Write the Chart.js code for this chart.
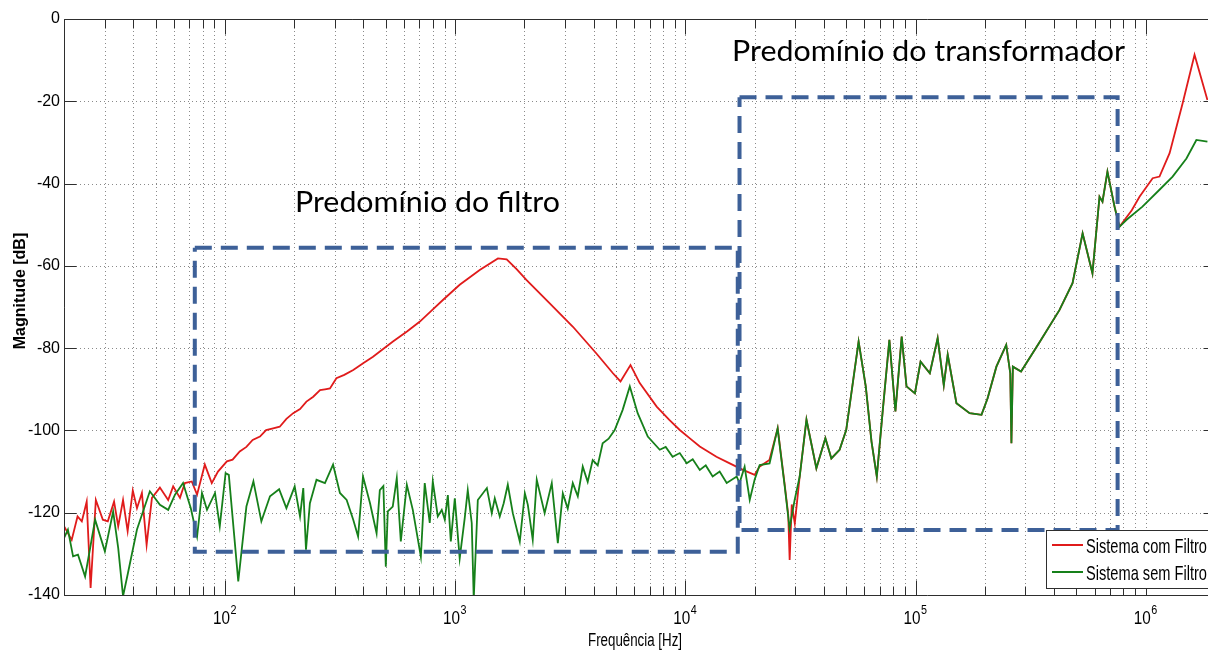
<!DOCTYPE html>
<html>
<head>
<meta charset="utf-8">
<script src="https://cdn.jsdelivr.net/npm/chart.js@4.4.1/dist/chart.umd.min.js"></script>
<style>
  html, body { margin: 0; padding: 0; background: #fff; overflow: hidden; }
  #wrap { position: relative; width: 1208px; height: 651px; overflow: hidden; }
  #chart { position: absolute; left: 0; top: 0; }
</style>
</head>
<body>
<div id="wrap"><canvas id="chart" width="1216" height="651"></canvas></div>
<script>
// --- data (Hz, dB) ---
const redFreq = [20, 21.6, 22.9, 23.9, 25.1, 26.1, 27.5, 29.5, 31.0, 33.0, 34.4, 36.1, 37.8, 39.8, 41.5, 43.6, 45.7, 48.2, 52.2, 56.7,
  59.6, 63.8, 67.0, 71.8, 75.7, 81.8, 87.7, 93.3, 102, 108, 116, 124, 132, 142, 151, 162, 173, 185, 198, 212,
  226, 242, 259, 272, 286, 305, 330, 361, 400, 440, 490, 537, 620, 701, 790, 885, 1047, 1279, 1535, 1675,
  1850, 2040, 2577, 3250, 4110, 4850, 5230, 5780, 6340, 7510, 8500, 9460, 10500, 11560, 13650, 15600, 17800, 20000, 21000, 23200,
  25200, 27000, 28000, 28400, 29000, 29900, 31400, 33600, 37100, 40600, 43100, 46800, 50000, 56600, 60800, 64400, 67900, 71900, 77000, 81800,
  87100, 91400, 99400, 105200, 115400, 124800, 132700, 138000, 150600, 171800, 193500, 205700, 224600, 247800, 258000, 261000, 264800, 287400, 343600, 422400,
  481000, 532000, 587000, 630000, 649000, 682000, 732000, 769000, 800000, 870000, 940000, 1072000, 1148000, 1270000, 1447000, 1630000, 1854000];
const redMag = [-123.3, -126.6, -120.9, -122.1, -117.3, -138.3, -116.9, -121.7, -122.1, -117.3, -123.3, -116.9, -124.5, -114.6, -118.9, -115.2, -127.8, -116.4, -113.9, -116.9,
  -113.6, -116.4, -112.8, -112.4, -115.6, -108.3, -112.8, -110.0, -107.5, -107.1, -105.1, -104.0, -102.3, -101.5, -99.9, -99.5, -99.1, -97.2, -95.8, -94.8,
  -93.0, -91.8, -90.2, -90.0, -89.8, -87.3, -86.5, -85.3, -83.6, -82.1, -80.1, -78.4, -75.9, -73.6, -70.9, -68.3, -64.6, -61.0, -58.2, -58.4,
  -60.8, -63.4, -69.1, -74.8, -81.3, -86.1, -88.1, -84.1, -88.5, -94.2, -97.4, -99.9, -102.0, -103.9, -106.4, -108.0, -109.6, -110.8, -108.8, -107.2,
  -99.5, -113.0, -120.5, -131.5, -118.0, -122.6, -111.2, -97.4, -109.2, -101.9, -106.8, -104.7, -99.9, -78.4, -89.3, -102.7, -111.2, -95.8, -78.0, -95.4,
  -77.2, -89.3, -91.0, -83.3, -86.1, -77.6, -89.0, -81.6, -93.4, -95.8, -96.2, -92.2, -84.5, -79.2, -86.1, -103.1, -84.5, -85.7, -78.8, -70.7,
  -64.2, -52.1, -61.8, -43.2, -44.4, -37.1, -45.6, -50.5, -49.2, -46.5, -43.2, -38.7, -38.3, -32.6, -20.5, -8.7, -19.7];

const greenFreq = [20, 20.8, 21.9, 23.0, 24.7, 25.9, 27.3, 30.1, 32.7, 34.4, 36.1, 37.9, 41.5, 47.2, 52.2, 56.7, 60.7, 65.8, 71.1, 75.7,
  79.5, 83.6, 90.6, 95.0, 100.7, 104, 114.3, 124, 133, 144, 157, 172, 185, 201, 212, 219, 225, 234, 250, 272,
  295, 316, 338, 361, 379, 398, 427, 456, 471, 488, 500, 510, 536, 558, 581, 617, 655, 710, 738, 776,
  800, 841, 875, 902, 930, 958, 997, 1047, 1101, 1135, 1181, 1205, 1255, 1374, 1443, 1487, 1563, 1626, 1694, 1781,
  1910, 2009, 2070, 2174, 2263, 2449, 2630, 2794, 2937, 3085, 3245, 3412, 3585, 3767, 3960, 4165, 4375, 4645, 4935, 5345,
  5740, 6210, 6870, 7745, 8220, 8810, 9460, 10140, 10770, 11560, 12270, 13150, 14100, 15130, 16720, 17200, 18100, 19050, 20000, 21040,
  23230, 25180, 27030, 28380, 29850, 31400, 33600, 37100, 40600, 43100, 46800, 50000, 56600, 60800, 64400, 67900, 71900, 77000, 81800, 87100,
  91400, 99400, 105200, 115400, 124800, 132700, 138000, 150600, 171800, 193500, 205700, 224600, 247800, 258000, 261000, 264800, 287400, 343600, 422400, 481000,
  532000, 587000, 630000, 649000, 682000, 732000, 769000, 826000, 968000, 1148000, 1309000, 1503000, 1660000, 1854000];
const greenMag = [-126.2, -124.1, -130.6, -130.2, -135.5, -129.0, -121.7, -129.4, -119.7, -128.6, -140.3, -134.7, -124.1, -114.8, -118.1, -119.3, -115.6, -112.8, -118.9, -125.8,
  -115.2, -119.3, -115.2, -123.3, -110.4, -110.8, -136.7, -118.5, -112.4, -122.1, -116.0, -114.3, -118.9, -113.6, -120.9, -114.0, -129.0, -117.7, -112.0, -112.8,
  -108.3, -115.2, -116.9, -121.7, -125.8, -111.2, -117.7, -125.0, -114.5, -113.5, -133.1, -119.7, -118.5, -111.6, -127.0, -113.2, -119.3, -130.7, -112.8, -122.5,
  -112.4, -120.9, -119.3, -121.7, -115.7, -127.0, -116.5, -131.1, -121.3, -114.5, -122.5, -141.0, -116.9, -114.0, -120.1, -116.5, -120.9, -117.7, -113.2, -120.1,
  -127.0, -115.3, -118.1, -126.6, -112.0, -120.1, -112.8, -127.4, -115.3, -119.0, -112.8, -116.0, -108.8, -112.5, -107.2, -108.5, -103.1, -102.0, -99.9, -95.0,
  -89.3, -95.8, -101.5, -104.7, -104.0, -106.4, -105.5, -108.0, -107.0, -109.6, -108.5, -111.2, -110.0, -112.8, -111.2, -112.8, -108.8, -116.9, -112.0, -108.4,
  -108.0, -99.5, -113.6, -123.8, -116.9, -111.2, -97.4, -109.2, -101.9, -106.8, -104.7, -99.9, -78.4, -89.3, -102.7, -111.2, -95.8, -78.0, -95.4, -77.2,
  -89.3, -91.0, -83.3, -86.1, -77.6, -89.0, -81.6, -93.4, -95.8, -96.2, -92.2, -84.5, -79.2, -86.1, -103.1, -84.5, -85.7, -78.8, -70.7, -64.2,
  -52.1, -61.8, -43.2, -44.4, -37.1, -45.6, -50.5, -48.8, -45.6, -41.5, -38.3, -33.9, -29.4, -29.8];

// dashed annotation boxes
const filterBoxFreq = [74, 16900, 16900, 74, 74];
const filterBoxMag = [-55.6, -55.6, -129.5, -129.5, -55.6];
const trafoBoxFreq = [17200, 755000, 755000, 17200, 17200];
const trafoBoxMag = [-19.0, -19.0, -124.2, -124.2, -19.0];

// axes
const xMin = 20, xMax = 2000000;
const yMin = -140, yMax = 0, yStep = 20;
const decades = [10, 100, 1000, 10000, 100000, 1000000];
const mantissas = [1, 2, 3, 4, 5, 6, 7, 8, 9];
const xTickValues = decades.flatMap(d => mantissas.map(m => m * d)).filter(v => v >= xMin && v <= xMax);

const seriesNames = ['Sistema com Filtro', 'Sistema sem Filtro'];
const notes = ['Predomínio do filtro', 'Predomínio do transformador'];

const toPoints = (fs, ms) => fs.map((f, i) => ({ x: f, y: ms[i] }));

// draw text squeezed to a given width
function fitText(ctx, text, left, baseline, font, width) {
  ctx.save();
  ctx.font = font;
  ctx.textAlign = 'left';
  ctx.textBaseline = 'alphabetic';
  const w = ctx.measureText(text).width;
  ctx.translate(left, baseline);
  ctx.scale(width / w, 1);
  ctx.fillText(text, 0, 0);
  ctx.restore();
}

const matlabFrame = {
  id: 'matlabFrame',
  beforeDatasetsDraw(chart) {
    const { ctx, chartArea: a, scales: { x, y } } = chart;
    ctx.save();
    ctx.strokeStyle = '#8a8a8a';
    ctx.lineWidth = 1;
    ctx.setLineDash([1, 3]);
    ctx.beginPath();
    x.ticks.forEach(t => {
      const px = Math.round(x.getPixelForValue(t.value)) + 0.5;
      ctx.moveTo(px, a.top); ctx.lineTo(px, a.bottom);
    });
    y.ticks.forEach(t => {
      const py = Math.round(y.getPixelForValue(t.value)) + 0.5;
      ctx.moveTo(a.left, py); ctx.lineTo(a.right, py);
    });
    ctx.stroke();
    ctx.restore();
  },
  afterDatasetsDraw(chart) {
    const { ctx, chartArea: a, scales: { x, y } } = chart;
    const L = Math.round(a.left) + 0.5, R = Math.round(a.right) + 0.5;
    const T = Math.round(a.top) + 0.5, B = Math.round(a.bottom) + 0.5;
    ctx.save();
    ctx.strokeStyle = '#2e2e2e';
    ctx.lineWidth = 1;
    ctx.beginPath();
    ctx.rect(L, T, R - L, B - T);
    x.ticks.forEach(t => {
      const px = Math.round(x.getPixelForValue(t.value)) + 0.5;
      const len = decades.includes(t.value) ? 15 : 9;
      ctx.moveTo(px, B); ctx.lineTo(px, B - len);
      ctx.moveTo(px, T); ctx.lineTo(px, T + len);
    });
    y.ticks.forEach(t => {
      const py = Math.round(y.getPixelForValue(t.value)) + 0.5;
      ctx.moveTo(L, py); ctx.lineTo(L + 12, py);
      ctx.moveTo(R, py); ctx.lineTo(R - 12, py);
    });
    ctx.stroke();

    // x tick labels: 10 with exponent
    ctx.fillStyle = '#000';
    decades.forEach(d => {
      if (d < xMin || d > xMax) return;
      const px = x.getPixelForValue(d);
      fitText(ctx, '10', px - 12, 624, '19px "Liberation Sans", Arial, sans-serif', 17);
      fitText(ctx, String(Math.round(Math.log10(d))), px + 5.5, 614, '12px "Liberation Sans", Arial, sans-serif', 6);
    });

    // axis titles
    fitText(ctx, 'Frequência [Hz]', 588, 646, '18px "Liberation Sans", Arial, sans-serif', 94);
    ctx.save();
    ctx.translate(25, 291);
    ctx.rotate(-Math.PI / 2);
    ctx.font = 'bold 16px "Liberation Sans", Arial, sans-serif';
    ctx.textAlign = 'center';
    ctx.textBaseline = 'alphabetic';
    ctx.fillText('Magnitude [dB]', 0, 0);
    ctx.restore();

    // region notes
    fitText(ctx, notes[0], 295, 212, '28px Lato, "Open Sans", sans-serif', 265);
    fitText(ctx, notes[1], 732, 61, '28px Lato, "Open Sans", sans-serif', 393);

    // legend
    ctx.fillStyle = '#fff';
    ctx.fillRect(1046.5, 530.5, 200, 58);
    ctx.strokeStyle = '#2e2e2e';
    ctx.lineWidth = 1;
    ctx.strokeRect(1046.5, 530.5, 200, 58);
    const ds = chart.data.datasets;
    [[0, 545, 553], [1, 572, 580]].forEach(([i, ly, by]) => {
      ctx.strokeStyle = ds[i].borderColor;
      ctx.lineWidth = 2;
      ctx.beginPath();
      ctx.moveTo(1052, ly); ctx.lineTo(1083, ly);
      ctx.stroke();
      ctx.fillStyle = '#000';
      fitText(ctx, ds[i].label, 1086, by, '21px "Liberation Sans", Arial, sans-serif', 121);
    });
    ctx.restore();
  }
};

new Chart(document.getElementById('chart'), {
  type: 'line',
  data: {
    datasets: [
      { label: seriesNames[0], data: toPoints(redFreq, redMag), borderColor: '#e01b1b', borderWidth: 1.8, pointRadius: 0, tension: 0, order: 2 },
      { label: seriesNames[1], data: toPoints(greenFreq, greenMag), borderColor: '#16801a', borderWidth: 1.8, pointRadius: 0, tension: 0, order: 1 },
      { label: notes[0], data: toPoints(filterBoxFreq, filterBoxMag), borderColor: '#3d6098', borderWidth: 4, borderDash: [17, 9], pointRadius: 0, tension: 0, order: 0 },
      { label: notes[1], data: toPoints(trafoBoxFreq, trafoBoxMag), borderColor: '#3d6098', borderWidth: 4, borderDash: [17, 9], pointRadius: 0, tension: 0, order: 0 }
    ]
  },
  options: {
    responsive: false,
    animation: false,
    devicePixelRatio: 1,
    layout: { padding: { top: 19, right: 1, left: 0, bottom: 0 } },
    plugins: { legend: { display: false }, tooltip: { enabled: false } },
    scales: {
      x: {
        type: 'logarithmic',
        min: xMin,
        max: xMax,
        afterBuildTicks: scale => { scale.ticks = xTickValues.map(v => ({ value: v, major: decades.includes(v) })); },
        afterFit: scale => { scale.height = 56; },
        ticks: { display: false, autoSkip: false },
        grid: { display: false, drawTicks: false },
        border: { display: false }
      },
      y: {
        min: yMin,
        max: yMax,
        afterFit: scale => { scale.width = 64; },
        ticks: { stepSize: yStep, padding: 4, color: '#000', font: { family: 'Liberation Sans', size: 16 } },
        grid: { display: false, drawTicks: false },
        border: { display: false }
      }
    }
  },
  plugins: [matlabFrame]
});
</script>
</body>
</html>
